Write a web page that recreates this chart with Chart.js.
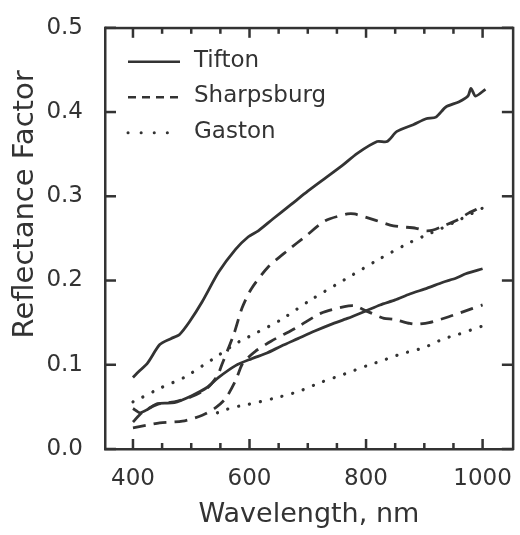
<!DOCTYPE html>
<html>
<head>
<meta charset="utf-8">
<script src="https://cdn.jsdelivr.net/npm/chart.js@4/dist/chart.umd.min.js"></script>
<style>
  html, body { margin: 0; background: #fff; }
  #wrap { width: 520px; height: 535px; }
</style>
</head>
<body>
<div id="wrap"><canvas id="reflectance-chart" width="520" height="535"></canvas></div>
<script>
// wavelength (nm) / reflectance factor
const tiftonHighNm = [400, 410, 425, 446, 465, 480, 497, 519, 547, 576, 598, 615, 640, 671, 700, 729, 760, 785, 819, 836, 853, 881, 903, 920, 937, 959, 975, 980, 988, 1005];
const tiftonHigh = [0.085, 0.092, 0.102, 0.124, 0.131, 0.136, 0.151, 0.175, 0.210, 0.237, 0.252, 0.259, 0.273, 0.290, 0.306, 0.321, 0.337, 0.351, 0.365, 0.365, 0.377, 0.385, 0.392, 0.394, 0.406, 0.412, 0.419, 0.428, 0.419, 0.427];

const tiftonLowNm = [400, 412, 425, 442, 471, 500, 527, 547, 576, 603, 630, 654, 683, 712, 740, 768, 800, 824, 850, 875, 905, 932, 955, 971, 1000];
const tiftonLow = [0.048, 0.043, 0.047, 0.054, 0.055, 0.063, 0.073, 0.085, 0.099, 0.107, 0.114, 0.122, 0.131, 0.140, 0.148, 0.155, 0.164, 0.171, 0.177, 0.184, 0.191, 0.198, 0.203, 0.208, 0.214];

const sharpsHighNm = [400, 415, 442, 471, 500, 527, 545, 553, 573, 587, 603, 632, 666, 697, 730, 768, 780, 814, 847, 886, 903, 915, 937, 954, 976, 988, 1000];
const sharpsHigh = [0.032, 0.043, 0.053, 0.056, 0.062, 0.072, 0.087, 0.101, 0.136, 0.167, 0.190, 0.216, 0.236, 0.253, 0.271, 0.279, 0.279, 0.272, 0.265, 0.262, 0.259, 0.260, 0.266, 0.271, 0.280, 0.284, 0.289];

const sharpsLowNm = [400, 446, 485, 519, 542, 559, 576, 587, 597, 610, 637, 683, 722, 763, 780, 800, 831, 847, 875, 886, 908, 942, 983, 1000];
const sharpsLow = [0.025, 0.031, 0.033, 0.040, 0.049, 0.060, 0.081, 0.100, 0.108, 0.116, 0.128, 0.145, 0.161, 0.169, 0.170, 0.164, 0.155, 0.154, 0.149, 0.148, 0.150, 0.157, 0.167, 0.171];

const gastonHighNm = [400, 412, 449, 488, 522, 542, 576, 598, 653, 705, 763, 819, 869, 900, 930, 960, 1000];
const gastonHigh = [0.056, 0.060, 0.073, 0.085, 0.100, 0.109, 0.125, 0.133, 0.153, 0.177, 0.201, 0.224, 0.243, 0.253, 0.262, 0.272, 0.286];

const gastonLowNm = [545, 556, 576, 598, 641, 683, 722, 763, 802, 824, 861, 898, 934, 958, 1000];
const gastonLow = [0.043, 0.046, 0.050, 0.053, 0.060, 0.068, 0.079, 0.089, 0.099, 0.104, 0.113, 0.120, 0.131, 0.136, 0.146];

const xTickValues = [400, 450, 500, 550, 600, 650, 700, 750, 800, 850, 900, 950, 1000];
const yTickValues = [0, 0.1, 0.2, 0.3, 0.4, 0.5];
const legendNames = ['Tifton', 'Sharpsburg', 'Gaston'];
const yTitle = 'Reflectance Factor';

const ink = '#333333';
const font = 'DejaVu Sans';
const solid = [];
const dashed = [13, 8];
const dotted = [0.1, 11];

const pts = (xs, ys) => xs.map((x, i) => ({ x, y: ys[i] }));

const line = (label, xs, ys, dash) => ({
  label,
  data: pts(xs, ys),
  borderColor: ink,
  borderWidth: dash === dotted ? 3.2 : 2.8,
  borderDash: dash,
  borderCapStyle: dash === dotted ? 'round' : 'butt',
  pointRadius: 0,
  tension: 0.25,
  fill: false,
});

// frame plus inward ticks on all four sides
const frameTicks = {
  id: 'frameTicks',
  afterDraw(chart) {
    const c = chart.ctx;
    const a = chart.chartArea;
    const sx = chart.scales.x;
    const sy = chart.scales.y;
    const w = a.right - a.left;
    const h = a.bottom - a.top;
    c.save();
    c.fillStyle = ink;
    c.fillRect(a.left - 1, a.top - 1, w + 2, 2.5);
    c.fillRect(a.left - 1, a.bottom - 1, w + 2, 2.5);
    c.fillRect(a.left - 1, a.top - 1, 2.5, h + 2);
    c.fillRect(a.right - 1, a.top - 1, 2.5, h + 2);
    xTickValues.forEach(v => {
      const px = sx.getPixelForValue(v);
      const len = v % 200 === 0 ? 10 : 6;
      c.fillRect(px - 1.25, a.bottom - len, 2.5, len);
      c.fillRect(px - 1.25, a.top, 2.5, len);
    });
    yTickValues.forEach(v => {
      const py = sy.getPixelForValue(v);
      c.fillRect(a.left, py - 1.25, 11, 2.5);
      c.fillRect(a.right - 11, py - 1.25, 11, 2.5);
    });
    c.restore();
  }
};

// y title sits a little above the plot centre in the original
const sideTitle = {
  id: 'sideTitle',
  afterDraw(chart) {
    const c = chart.ctx;
    const a = chart.chartArea;
    c.save();
    c.translate(25, (a.top + a.bottom) / 2 - 34);
    c.rotate(-Math.PI / 2);
    c.fillStyle = ink;
    c.font = '29px "' + font + '"';
    c.textAlign = 'center';
    c.textBaseline = 'middle';
    c.fillText(yTitle, 0, 0);
    c.restore();
  }
};

// legend sitting inside the plot, top-left
const innerLegend = {
  id: 'innerLegend',
  afterDraw(chart) {
    const c = chart.ctx;
    const a = chart.chartArea;
    const styles = [solid, dashed, dotted];
    c.save();
    c.fillStyle = ink;
    c.strokeStyle = ink;
    c.font = '23px "' + font + '"';
    c.textBaseline = 'middle';
    legendNames.forEach((name, i) => {
      const yy = a.top + 34 + i * 35.5;
      c.setLineDash(styles[i] === dotted ? [0.1, 13] : styles[i] === dashed ? [8, 6] : []);
      c.lineCap = styles[i] === dotted ? 'round' : 'butt';
      c.lineWidth = styles[i] === dotted ? 3 : 2.6;
      c.beginPath();
      c.moveTo(a.left + 23, yy);
      c.lineTo(a.left + 75, yy);
      c.stroke();
      c.fillText(name, a.left + 89, yy - 1);
    });
    c.restore();
  }
};

const canvasCtx = document.getElementById('reflectance-chart').getContext('2d');
new Chart(canvasCtx, {
  type: 'line',
  data: {
    datasets: [
      line('Tifton', tiftonHighNm, tiftonHigh, solid),
      line('Tifton', tiftonLowNm, tiftonLow, solid),
      line('Sharpsburg', sharpsHighNm, sharpsHigh, dashed),
      line('Sharpsburg', sharpsLowNm, sharpsLow, dashed),
      line('Gaston', gastonHighNm, gastonHigh, dotted),
      line('Gaston', gastonLowNm, gastonLow, dotted),
    ],
  },
  options: {
    responsive: false,
    devicePixelRatio: 1,
    animation: false,
    layout: { padding: { top: 25, right: 2, left: 0, bottom: 0 } },
    plugins: { legend: { display: false }, tooltip: { enabled: false } },
    scales: {
      x: {
        type: 'linear',
        min: 352,
        max: 1052,
        afterBuildTicks: s => { s.ticks = xTickValues.map(v => ({ value: v })); },
        afterFit: s => { s.height = 86; },
        grid: { display: false },
        border: { display: false },
        ticks: {
          autoSkip: false,
          maxRotation: 0,
          padding: 8,
          color: ink,
          font: { family: font, size: 23 },
          callback: v => (v % 200 === 0 ? String(v) : ''),
        },
        title: {
          display: true,
          text: 'Wavelength, nm',
          color: ink,
          font: { family: font, size: 27 },
          padding: { top: 0, bottom: 4 },
        },
      },
      y: {
        min: 0,
        max: 0.5,
        afterBuildTicks: s => { s.ticks = yTickValues.map(v => ({ value: v })); },
        afterFit: s => { s.width = 105; },
        grid: { display: false },
        border: { display: false },
        ticks: {
          padding: 14,
          color: ink,
          font: { family: font, size: 23 },
          callback: v => v.toFixed(1),
        },
      },
    },
  },
  plugins: [frameTicks, sideTitle, innerLegend],
});
</script>
</body>
</html>
